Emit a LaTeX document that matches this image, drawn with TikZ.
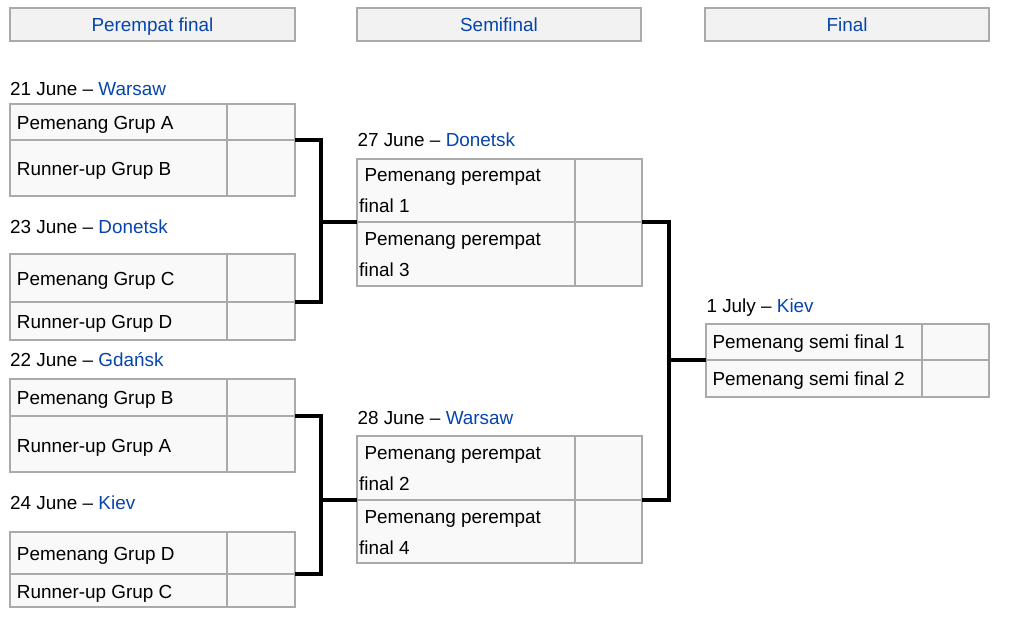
\documentclass[tikz,border=0pt]{standalone}
\usepackage{fontspec}
\setmainfont{Liberation Sans}
\definecolor{linkblue}{HTML}{0645AD}
\definecolor{cellborder}{HTML}{AAAAAA}
\definecolor{cellfill}{HTML}{F9F9F9}
\definecolor{headfill}{HTML}{F2F2F2}
\newcommand\mkrow[7]{%
  \node[cell, minimum width=#4pt, minimum height=#6pt, anchor=north west] (#1t) at (#2,#3) {};
  \node[cell, minimum width=#5pt, minimum height=#6pt, anchor=north west] (#1s) at (#1t.north east) {};}
\begin{document}
\begin{tikzpicture}[x=1pt,y=-1pt,
  cell/.style={draw=cellborder, fill=cellfill, line width=1.1pt, inner sep=0pt, outer sep=0pt},
  head/.style={draw=cellborder, fill=headfill, line width=1.1pt, inner sep=0pt, outer sep=0pt, text depth=0pt, text=linkblue, font=\fontsize{18.9}{22}\selectfont},
  lbl/.style={anchor=base west, inner sep=0pt, font=\fontsize{18.9}{22}\selectfont},
  conn/.style={line width=4pt, line join=miter, black}]
\useasboundingbox (0,0) rectangle (1012,622);
% headers
\node[head, minimum width=285pt, minimum height=33pt, anchor=north west] (h1) at (10,8) {Perempat final};
\node[head, minimum width=284pt, minimum height=33pt, anchor=north west] (h2) at (357,8) {Semifinal};
\node[head, minimum width=284pt, minimum height=33pt, anchor=north west] (h3) at (705,8) {Final};
% quarter-final cells
\mkrow{qa}{10}{104}{217}{68}{36}{}
\mkrow{qb}{10}{140}{217}{68}{56}{}
\mkrow{qc}{10}{254}{217}{68}{48}{}
\mkrow{qd}{10}{302}{217}{68}{38}{}
\mkrow{qe}{10}{379}{217}{68}{37}{}
\mkrow{qf}{10}{416}{217}{68}{56}{}
\mkrow{qg}{10}{532}{217}{68}{42}{}
\mkrow{qh}{10}{574}{217}{68}{33}{}
% semi-final cells
\mkrow{sa}{357}{159}{218}{67}{63}{}
\mkrow{sb}{357}{222}{218}{67}{64}{}
\mkrow{sc}{357}{436}{218}{67}{64}{}
\mkrow{sd}{357}{500}{218}{67}{63}{}
% final cells
\mkrow{fa}{706}{324}{216}{67}{36}{}
\mkrow{fb}{706}{360}{216}{67}{37}{}
% dates
\node[lbl] (d1) at (10,95) {21 June – \textcolor{linkblue}{Warsaw}};
\node[lbl] (d2) at (10,233.3) {23 June – \textcolor{linkblue}{Donetsk}};
\node[lbl] (d3) at (10,366.7) {22 June – \textcolor{linkblue}{Gdańsk}};
\node[lbl] (d4) at (10,509.3) {24 June – \textcolor{linkblue}{Kiev}};
\node[lbl] (d5) at (357.3,146) {27 June – \textcolor{linkblue}{Donetsk}};
\node[lbl] (d6) at (357.3,424) {28 June – \textcolor{linkblue}{Warsaw}};
\node[lbl] (d7) at (706.3,312.3) {1 July – \textcolor{linkblue}{Kiev}};
% team labels
\node[lbl] (la) at (16.7,129.3) {Pemenang Grup A};
\node[lbl] (lb) at (16.7,175.7) {Runner-up Grup B};
\node[lbl] (lc) at (16.7,285.7) {Pemenang Grup C};
\node[lbl] (ld) at (16.7,328.7) {Runner-up Grup D};
\node[lbl] (le) at (16.7,404) {Pemenang Grup B};
\node[lbl] (lf) at (16.7,452.3) {Runner-up Grup A};
\node[lbl] (lg) at (16.7,560.7) {Pemenang Grup D};
\node[lbl] (lh) at (16.7,598) {Runner-up Grup C};
\node[lbl] (sa1) at (364.3,181.7) {Pemenang perempat};
\node[lbl] (sa2) at (359,212.3) {final 1};
\node[lbl] (sb1) at (364.3,245.7) {Pemenang perempat};
\node[lbl] (sb2) at (359,276.7) {final 3};
\node[lbl] (sc1) at (364.3,459) {Pemenang perempat};
\node[lbl] (sc2) at (359,490) {final 2};
\node[lbl] (sd1) at (364.3,523.3) {Pemenang perempat};
\node[lbl] (sd2) at (359,554) {final 4};
\node[lbl] (fa1) at (712.3,348.3) {Pemenang semi final 1};
\node[lbl] (fb1) at (712.3,385.7) {Pemenang semi final 2};
% connectors
\coordinate (j1) at (321,222);
\coordinate (j2) at (321,500);
\coordinate (j3) at (668.7,360);
\draw[conn] (qbs.north east) -| (j1) |- (qds.north east);
\draw[conn] (j1) -- (sbt.north west);
\draw[conn] (qfs.north east) -| (j2) |- (qhs.north east);
\draw[conn] (j2) -- (sdt.north west);
\draw[conn] (sbs.north east) -| (j3) |- (sds.north east);
\draw[conn] (j3) -- (fbt.north west);
\end{tikzpicture}
\end{document}
